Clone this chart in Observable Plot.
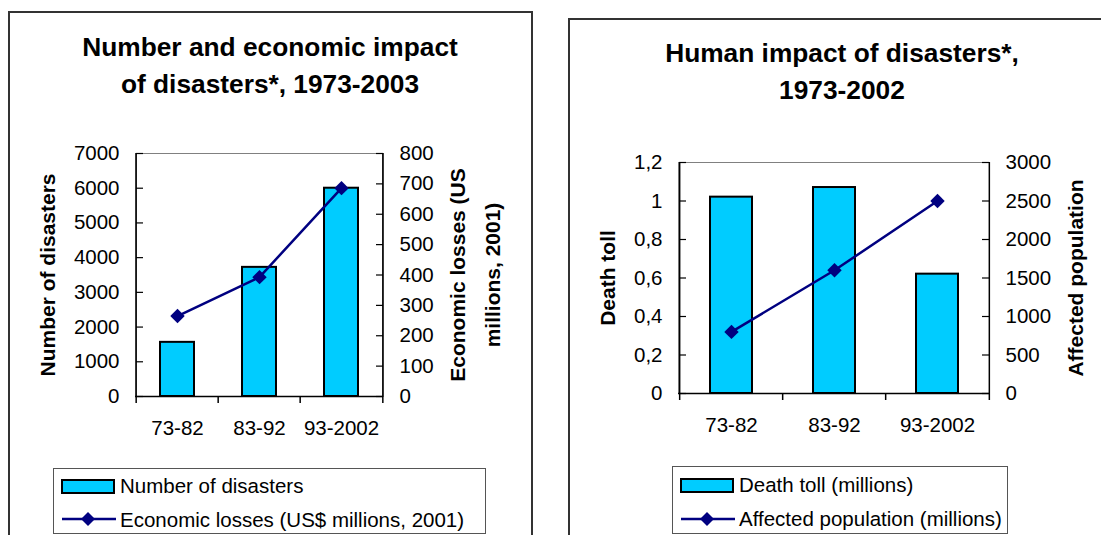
<!DOCTYPE html>
<html>
<head>
<meta charset="utf-8">
<script src="https://cdn.jsdelivr.net/npm/d3@7"></script>
<script src="https://cdn.jsdelivr.net/npm/@observablehq/plot@0.6"></script>
<style>
  html, body { margin: 0; padding: 0; background: #fff; }
  body { width: 1101px; height: 535px; overflow: hidden; position: relative;
         font-family: "Liberation Sans", Arial, sans-serif; color: #000; }
  .panel { position: absolute; box-sizing: border-box; border: 2px solid #333; background: #fff; }
  .title { position: absolute; text-align: center; font-weight: bold; font-size: 26.3px; line-height: 36.5px; }
  .chart { position: absolute; }
  .legend { position: absolute; box-sizing: border-box; border: 1px solid #555; background: #fff; font-size: 20.5px; }
  .legend .lab { position: absolute; left: 66px; line-height: 24px; white-space: nowrap; }
  .legend .sw { position: absolute; left: 7px; }
</style>
</head>
<body>
<div class="panel" style="left:8px;top:11px;width:525px;height:600px;"></div>
<div class="panel" style="left:568px;top:18px;width:600px;height:600px;"></div>

<div class="title" style="left:20px;top:29px;width:500px;">Number and economic impact<br>of disasters*, 1973-2003</div>
<div class="title" style="left:592px;top:35px;width:500px;">Human impact of disasters*,<br>1973-2002</div>

<div id="chart1" class="chart" style="left:20px;top:120px;"></div>
<div id="chart2" class="chart" style="left:585px;top:125px;"></div>

<div class="legend" style="left:53px;top:468px;width:433px;height:66px;">
  <svg class="sw" style="top:10px" width="56" height="16"><rect x="1" y="1" width="52" height="13" fill="#00CCFF" stroke="#000" stroke-width="2"/></svg>
  <div class="lab" style="top:5px">Number of disasters</div>
  <svg class="sw" style="top:41px" width="56" height="18"><line x1="1" y1="9" x2="55" y2="9" stroke="#000080" stroke-width="2.5"/><polygon points="27,2 34,9 27,16 20,9" fill="#000080"/></svg>
  <div class="lab" style="top:39px">Economic losses (US$ millions, 2001)</div>
</div>
<div class="legend" style="left:672px;top:466px;width:336px;height:68px;">
  <svg class="sw" style="top:11px" width="56" height="16"><rect x="1" y="1" width="52" height="13" fill="#00CCFF" stroke="#000" stroke-width="2"/></svg>
  <div class="lab" style="top:6px">Death toll (millions)</div>
  <svg class="sw" style="top:43px" width="56" height="18"><line x1="1" y1="9" x2="55" y2="9" stroke="#000080" stroke-width="2.5"/><polygon points="27,2 34,9 27,16 20,9" fill="#000080"/></svg>
  <div class="lab" style="top:40px">Affected population (millions)</div>
</div>

<script>
// ---- data ----
const periods = ["73-82", "83-92", "93-2002"];
const disasterCounts = [1560, 3720, 6000];
const economicLosses = [265, 393, 686];
const deathToll = [1.02, 1.07, 0.62];
const affectedPopulation = [800, 1600, 2500];

const countTicks = [0, 1000, 2000, 3000, 4000, 5000, 6000, 7000];
const lossTicks = [0, 100, 200, 300, 400, 500, 600, 700, 800];
const deathTicks = [0, 0.2, 0.4, 0.6, 0.8, 1, 1.2];
const affectedTicks = [0, 500, 1000, 1500, 2000, 2500, 3000];

// ---- helpers ----
const FONT = '"Liberation Sans", Arial, sans-serif';
const diamond = {
  draw(ctx, size) {
    const r = Math.sqrt(size) * 0.62625;
    ctx.moveTo(0, -r); ctx.lineTo(r, 0); ctx.lineTo(0, r); ctx.lineTo(-r, 0); ctx.closePath();
  }
};

function dualChart(cfg) {
  const {width, height, ml, mr, mt, mb, yMax, y2Max, barVals, lineVals,
         yTicks, y2Ticks, yFmt, leftTitle, rightTitle, leftDx, rightDx, pad} = cfg;
  const k = yMax / y2Max;
  const rows = periods.map((p, i) => ({p, bar: barVals[i], line: lineVals[i] * k}));
  const fw = width - ml - mr, fh = height - mt - mb;
  const step = fw / periods.length;
  const y2Scaled = y2Ticks.map(v => v * k);
  return Plot.plot({
    width, height, marginLeft: ml, marginRight: mr, marginTop: mt, marginBottom: mb,
    style: {fontFamily: FONT, fontSize: "20.5px", color: "#000", background: "transparent", overflow: "visible"},
    x: {domain: periods, paddingInner: pad, paddingOuter: pad / 2},
    y: {domain: [0, yMax]},
    marks: [
      Plot.frame({stroke: "#808080"}),
      Plot.barY(rows, {x: "p", y: "bar", fill: "#00CCFF", stroke: "#000", strokeWidth: 2}),
      Plot.ruleY([0], {stroke: "#000", strokeWidth: 1.5}),
      Plot.ruleX([periods[0]], {x: d => d, dx: -step / 2, stroke: "#000", strokeWidth: 1.5, insetBottom: -7}),
      Plot.ruleX([periods[periods.length - 1]], {x: d => d, dx: step / 2, stroke: "#000", strokeWidth: 1.5, insetBottom: -7}),
      Plot.ruleX(periods.slice(1), {x: d => d, dx: -step / 2, stroke: "#000", strokeWidth: 1.5, insetTop: fh, insetBottom: -7}),
      Plot.line(rows, {x: "p", y: "line", stroke: "#000080", strokeWidth: 2.5}),
      Plot.dot(rows, {x: "p", y: "line", symbol: diamond, r: 6.5, fill: "#000080", stroke: "none"}),
      // left axis: labels outside, ticks pointing inward
      Plot.axisY(yTicks, {anchor: "left", tickSize: 0, tickPadding: 16, tickFormat: yFmt, label: null}),
      Plot.axisY(yTicks, {anchor: "right", tickSize: 7, text: null, label: null, dx: -fw, stroke: "#000", strokeWidth: 1.2}),
      // right axis: labels outside, ticks pointing inward
      Plot.axisY(y2Scaled, {anchor: "right", tickSize: 0, tickPadding: 16, tickFormat: d => String(Math.round(d / k)), label: null}),
      Plot.axisY(y2Scaled, {anchor: "left", tickSize: 7, text: null, label: null, dx: fw, stroke: "#000", strokeWidth: 1.2}),
      Plot.axisX({tickSize: 0, tickPadding: 24, label: null}),
      Plot.text([leftTitle], {text: d => d, frameAnchor: "left", textAnchor: "middle", lineAnchor: "middle",
        dx: leftDx, rotate: -90, fontWeight: "bold", fontSize: 21}),
      Plot.text([rightTitle], {text: d => d, frameAnchor: "right", textAnchor: "middle", lineAnchor: "middle",
        dx: rightDx, rotate: -90, fontWeight: "bold", fontSize: 21, lineHeight: 1.65})
    ]
  });
}

document.getElementById("chart1").append(dualChart({
  width: 500, height: 340, ml: 115, mr: 137, mt: 33, mb: 64,
  yMax: 7000, y2Max: 800, barVals: disasterCounts, lineVals: economicLosses,
  yTicks: countTicks, y2Ticks: lossTicks, yFmt: d => String(d),
  leftTitle: "Number of disasters", rightTitle: "Economic losses (US\nmillions, 2001)",
  leftDx: -87, rightDx: 88, pad: 0.59
}));

document.getElementById("chart2").append(dualChart({
  width: 515, height: 335, ml: 93, mr: 111, mt: 37, mb: 67,
  yMax: 1.2, y2Max: 3000, barVals: deathToll, lineVals: affectedPopulation,
  yTicks: deathTicks, y2Ticks: affectedTicks, yFmt: d => String(d).replace(".", ","),
  leftTitle: "Death toll", rightTitle: "Affected population",
  leftDx: -70, rightDx: 82, pad: 0.595
}));
</script>
</body>
</html>
